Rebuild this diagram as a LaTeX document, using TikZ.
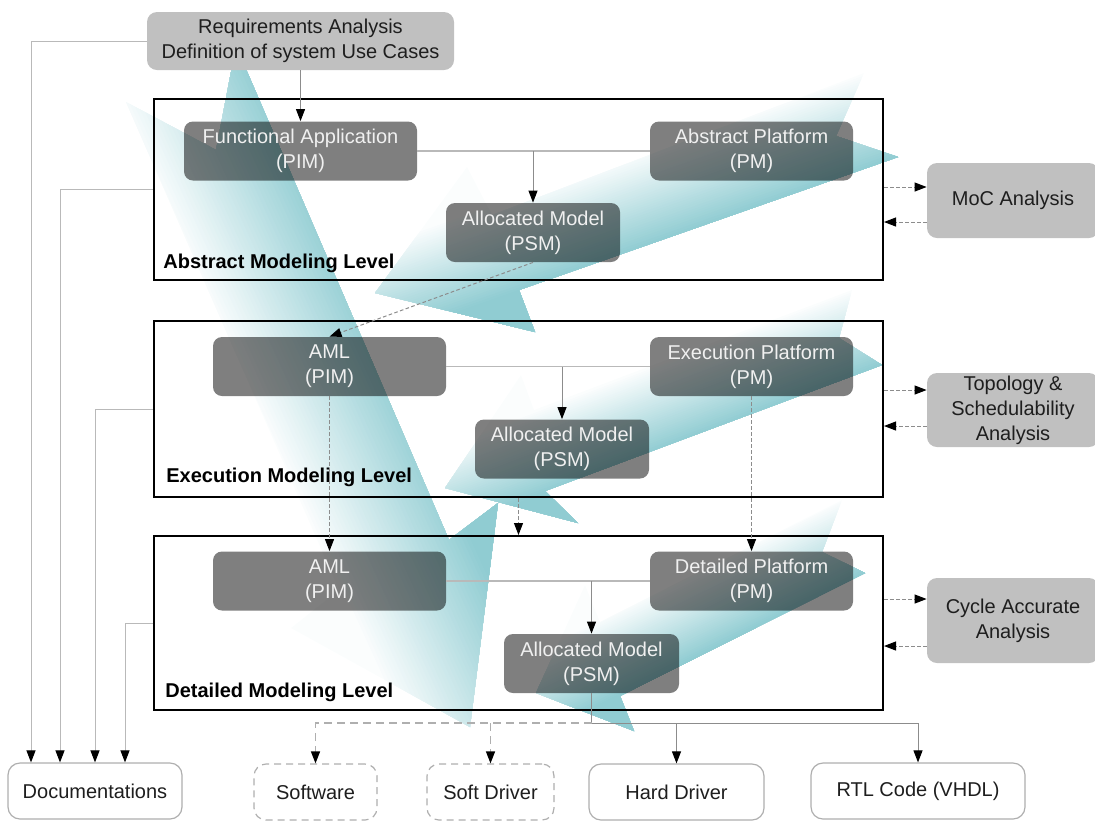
\documentclass[tikz,border=0pt]{standalone}
\usepackage{fontspec}
\setmainfont{Liberation Sans}
\usetikzlibrary{arrows.meta, calc}

\definecolor{flow}{RGB}{70,170,180}
\definecolor{wire}{RGB}{140,140,140}
\definecolor{wirelight}{RGB}{185,185,185}
\definecolor{anagray}{RGB}{192,192,192}
\definecolor{framegray}{RGB}{175,175,175}
\definecolor{ink}{RGB}{30,30,30}

\tikzset{
  txt/.style={font=\fontsize{10}{12.5}\selectfont},
  levelbox/.style={draw=black, line width=1pt, inner sep=0pt},
  levellabel/.style={font=\fontsize{10}{12.5}\selectfont\bfseries, inner sep=0pt, anchor=west},
  modelbox/.style={txt, rounded corners=4.5pt, fill=black, fill opacity=0.5, text opacity=1, text=white!94!black, align=center, inner sep=0pt, minimum height=29.5pt},
  anabox/.style={txt, rounded corners=5pt, fill=anagray, text=ink, align=center, inner sep=0pt, minimum width=86pt},
  outbox/.style={txt, rounded corners=6pt, draw=framegray, line width=0.6pt, fill=white, text=ink, inner sep=0pt, minimum height=28pt},
  softoutbox/.style={outbox, dash pattern=on 3.5pt off 2.5pt},
  blackhead/.style={-{Triangle[length=6pt,width=4.5pt,color=black]}},
  wirearrow/.style={draw=wire, line width=0.5pt, blackhead},
  wireline/.style={draw=wirelight, line width=0.6pt},
  tracearrow/.style={draw=wire, line width=0.5pt, dash pattern=on 1.8pt off 1.2pt, blackhead},
  outarrow/.style={draw=framegray, line width=0.6pt, dash pattern=on 4pt off 2.5pt, blackhead},
}

\begin{document}
\begin{tikzpicture}[x=0.5pt, y=-0.5pt]
\useasboundingbox (0,0) rectangle (1095,821);

% flow arrows (drawn first, boxes lie over them)
\coordinate (bigO) at (148,1);
\coordinate (bigP) at (0.91,-0.415);
\coordinate (bigU) at (332,728);
\begin{scope}[transparency group, opacity=0.6]
  \clip (126,102) -- (216,150) -- (236,46) -- (449,540) -- (498,503) -- (470,727) -- (291,628) -- (339,590) -- cycle;
  \foreach \i in {0,...,39} {
    \pgfmathsetmacro{\off}{\i==0 ? -250 : -70+\i*140/39}
    \pgfmathsetmacro{\tone}{4+\i*96/39}
    \fill[flow!\tone!white] ($(bigO)+\off*(bigP)$) -- ($(bigO)+\off*(bigP)+(bigU)$) -- ($(bigO)+250*(bigP)+(bigU)$) -- ($(bigO)+250*(bigP)$) -- cycle;
  }
\end{scope}

\coordinate (absO) at (938,95);
\coordinate (absP) at (0.332,0.944);
\coordinate (absU) at (-661,232);
\begin{scope}[transparency group, opacity=0.6]
  \clip (864,73) -- (492,215) -- (467,167) -- (375,293) -- (535,332) -- (519,290) -- (898,157) -- (836,136) -- cycle;
  \foreach \i in {0,...,39} {
    \pgfmathsetmacro{\off}{\i==0 ? -250 : -45+\i*90/39}
    \pgfmathsetmacro{\tone}{4+\i*96/39}
    \fill[flow!\tone!white] ($(absO)+\off*(absP)$) -- ($(absO)+\off*(absP)+(absU)$) -- ($(absO)+250*(absP)+(absU)$) -- ($(absO)+250*(absP)$) -- cycle;
  }
\end{scope}

\coordinate (exeO) at (923,306);
\coordinate (exeP) at (0.356,0.936);
\coordinate (exeU) at (-608,231);
\begin{scope}[transparency group, opacity=0.6]
  \clip (852,290) -- (534,410) -- (521,375) -- (445,488) -- (578,523) -- (545,491) -- (882,365) -- (839,338) -- cycle;
  \foreach \i in {0,...,39} {
    \pgfmathsetmacro{\off}{\i==0 ? -250 : -40+\i*80/39}
    \pgfmathsetmacro{\tone}{4+\i*96/39}
    \fill[flow!\tone!white] ($(exeO)+\off*(exeP)$) -- ($(exeO)+\off*(exeP)+(exeU)$) -- ($(exeO)+250*(exeP)+(exeU)$) -- ($(exeO)+250*(exeP)$) -- cycle;
  }
\end{scope}

\coordinate (detO) at (907,510);
\coordinate (detP) at (0.442,0.897);
\coordinate (detU) at (-449,221);
\begin{scope}[transparency group, opacity=0.6]
  \clip (842,500) -- (600,622) -- (585,585) -- (536,693) -- (634,731) -- (620,696) -- (865,573) -- (822,552) -- cycle;
  \foreach \i in {0,...,39} {
    \pgfmathsetmacro{\off}{\i==0 ? -250 : -38+\i*76/39}
    \pgfmathsetmacro{\tone}{4+\i*96/39}
    \fill[flow!\tone!white] ($(detO)+\off*(detP)$) -- ($(detO)+\off*(detP)+(detU)$) -- ($(detO)+250*(detP)+(detU)$) -- ($(detO)+250*(detP)$) -- cycle;
  }
\end{scope}

% modeling levels
\node[levelbox, minimum width=364.5pt, minimum height=90.5pt] (abs) at (518.5,189.5) {};
\node[levelbox, minimum width=364.5pt, minimum height=88pt] (exe) at (518.5,409) {};
\node[levelbox, minimum width=364.5pt, minimum height=87pt] (det) at (518.5,623) {};
\node[levellabel] (abslbl) at (163,263) {Abstract Modeling Level};
\node[levellabel] (exelbl) at (166,477) {Execution Modeling Level};
\node[levellabel] (detlbl) at (165,692) {Detailed Modeling Level};

% models
\node[modelbox, minimum width=116.5pt] (fa) at (300.5,151) {Functional Application\\(PIM)};
\node[modelbox, minimum width=101.5pt] (ap) at (751.5,151) {Abstract Platform\\(PM)};
\node[modelbox, minimum width=87pt] (psma) at (533,232.5) {Allocated Model\\(PSM)};
\node[modelbox, minimum width=116.5pt] (amle) at (329.5,366.5) {AML\\(PIM)};
\node[modelbox, minimum width=101.5pt] (ep) at (751.5,366.5) {Execution Platform\\(PM)};
\node[modelbox, minimum width=87pt] (psme) at (562,449) {Allocated Model\\(PSM)};
\node[modelbox, minimum width=116.5pt] (amld) at (329.5,581) {AML\\(PIM)};
\node[modelbox, minimum width=101.5pt] (dp) at (751.5,581) {Detailed Platform\\(PM)};
\node[modelbox, minimum width=87.5pt] (psmd) at (591.5,663.5) {Allocated Model\\(PSM)};

% analyses
\node[anabox, minimum width=153.5pt, minimum height=29pt] (req) at (300.5,41) {Requirements Analysis\\Definition of system Use Cases};
\node[anabox, minimum height=37.5pt] (moc) at (1013,200.5) {MoC Analysis};
\node[anabox, minimum height=37pt] (topo) at (1013,410) {Topology \&\\Schedulability\\Analysis};
\node[anabox, minimum height=42.5pt] (cyc) at (1013,620.5) {Cycle Accurate\\Analysis};

% products
\node[outbox, minimum width=87pt] (doc) at (95,791) {Documentations};
\node[softoutbox, minimum width=61.5pt] (sw) at (315.5,792) {Software};
\node[softoutbox, minimum width=63.5pt] (sdrv) at (490.5,792) {Soft Driver};
\node[outbox, minimum width=87.5pt] (hdrv) at (676.5,792) {Hard Driver};
\node[outbox, minimum width=107pt] (rtl) at (918,791) {RTL Code (VHDL)};

% inside the levels
\draw[wirearrow] (req) -- (fa);
\draw[wireline] (fa) -- (ap);
\draw[wirearrow] (fa.east -| psma.north) -- (psma.north);
\draw[tracearrow] (psma.south) -- (amle.north);
\draw[wireline] (amle) -- (ep);
\draw[wirearrow] (amle.east -| psme.north) -- (psme.north);
\draw[tracearrow] (amle) -- (amld);
\draw[tracearrow] (ep) -- (dp);
\draw[tracearrow] (exe) -- (det);
\draw[wireline] (amld) -- (dp);
\draw[wirearrow] (amld.east -| psmd.north) -- (psmd.north);

% analyses
\draw[tracearrow] (abs.east |- 0,187) -- (moc.west |- 0,187);
\draw[tracearrow] (moc.west |- 0,222) -- (abs.east |- 0,222);
\draw[tracearrow] (exe.east |- 0,390) -- (topo.west |- 0,390);
\draw[tracearrow] (topo.west |- 0,426) -- (exe.east |- 0,426);
\draw[tracearrow] (det.east |- 0,599) -- (cyc.west |- 0,599);
\draw[tracearrow] (cyc.west |- 0,646) -- (det.east |- 0,646);

% documentation
\draw[wirearrow, draw=wirelight] (req.west) -| (doc.north -| 31,0);
\draw[wirearrow, draw=wirelight] (abs.west) -| (doc.north -| 60,0);
\draw[wirearrow, draw=wirelight] (exe.west) -| (doc.north);
\draw[wirearrow, draw=wirelight] (det.west) -| (doc.north -| 125,0);

% generated code
\coordinate (split) at (psmd.south |- 0,723);
\draw[wirearrow] (psmd.south) -- (split) -| (rtl.north);
\draw[wirearrow] (hdrv.north |- split) -- (hdrv.north);
\draw[outarrow] (split) -| (sw.north);
\draw[outarrow] (sdrv.north |- split) -- (sdrv.north);
\end{tikzpicture}
\end{document}
